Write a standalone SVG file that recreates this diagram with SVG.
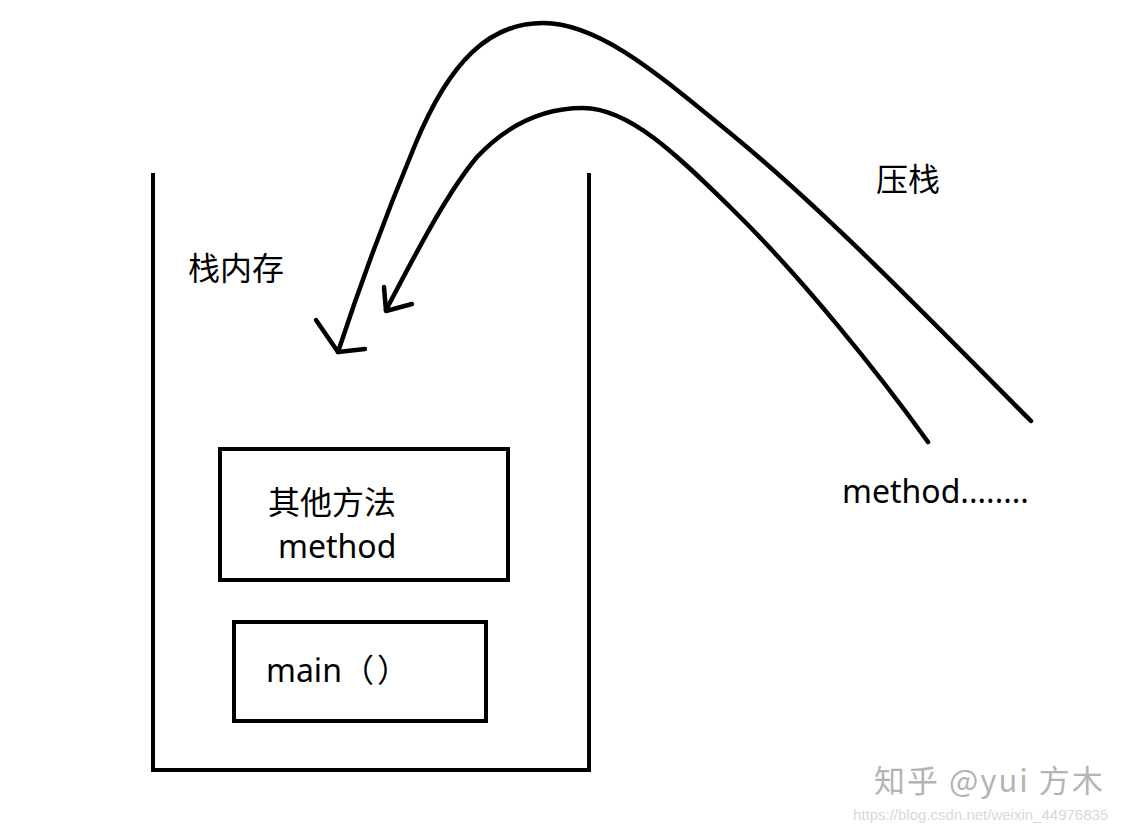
<svg xmlns="http://www.w3.org/2000/svg" width="1134" height="833" viewBox="0 0 1134 833">
  <style>
    .ln { fill: none; stroke: #000; stroke-width: 4.5; stroke-linecap: round; stroke-linejoin: round; }
    .box { fill: none; stroke: #000; stroke-width: 4; }
    .t { font-family: "Noto Sans", "Noto Sans CJK SC", sans-serif; font-size: 32px; fill: #000; }
    .wm { font-family: "Noto Sans CJK SC", "Noto Sans", sans-serif; font-size: 31px; letter-spacing: 2px; fill: #b4b4b4; }
    .url { font-family: "Liberation Sans", sans-serif; font-size: 15px; fill: #d8d8d8; }
  </style>
  <rect width="1134" height="833" fill="#fff"/>

  <g id="stack">
    <path class="box" d="M153,173 V770 H589 V173"/>
    <text class="t" x="188" y="280">栈内存</text>
  </g>

  <g id="other-method">
    <rect class="box" x="220" y="449" width="288" height="131"/>
    <text class="t" x="268" y="514">其他方法</text>
    <text class="t" x="278" y="558">method</text>
  </g>

  <g id="main">
    <rect class="box" x="234" y="622" width="252" height="99"/>
    <text class="t" x="266" y="682">main（<tspan dx="3">）</tspan></text>
  </g>

  <g id="push-label">
    <text class="t" x="876" y="191">压栈</text>
  </g>

  <g id="method-source">
    <text class="t" x="842" y="503">method........</text>
  </g>

  <g id="connectors">
    <path class="ln" d="M1031,421 C 940,330 830,215 730,133 C 660,76 600,23 543,23 C 490,23 450,60 415,145 C 390,205 360,285 338,352"/>
    <polyline class="ln" points="316,320 338,352 365,349"/>
    <path class="ln" d="M928,442 C 880,375 800,275 730,207 C 680,158 630,108 583,108 C 545,108 510,122 477,157 C 445,195 410,265 386,310"/>
    <polyline class="ln" points="384,287 386,311 412,304"/>
  </g>

  <g id="watermark">
    <text class="wm" x="874" y="792">知乎 @yui 方木</text>
    <text class="url" x="853" y="820">https://blog.csdn.net/weixin_44976835</text>
  </g>
</svg>
